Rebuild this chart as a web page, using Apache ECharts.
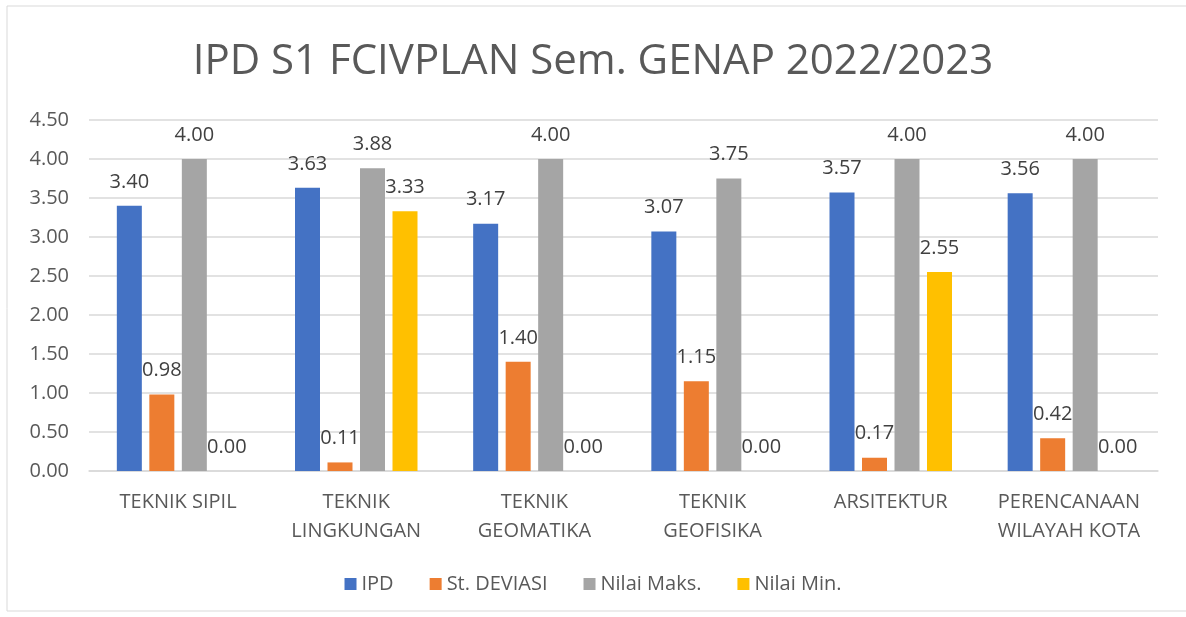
<!DOCTYPE html>
<html>
<head>
<meta charset="utf-8">
<script src="https://cdn.jsdelivr.net/npm/echarts@6/dist/echarts.min.js"></script>
<style>
  html, body { margin: 0; padding: 0; background: #fff; }
  #chart { width: 1186px; height: 617px; }
</style>
</head>
<body>
<div id="chart"></div>
<script>
// Chart data
const categories = ['TEKNIK SIPIL', 'TEKNIK\nLINGKUNGAN', 'TEKNIK\nGEOMATIKA', 'TEKNIK\nGEOFISIKA', 'ARSITEKTUR', 'PERENCANAAN\nWILAYAH KOTA'];
const ipd = [3.40, 3.63, 3.17, 3.07, 3.57, 3.56];
const stDeviasi = [0.98, 0.11, 1.40, 1.15, 0.17, 0.42];
const nilaiMaks = [4.00, 3.88, 4.00, 3.75, 4.00, 4.00];
const nilaiMin = [0.00, 3.33, 0.00, 0.00, 2.55, 0.00];
const seriesNames = ['IPD', 'St. DEVIASI', 'Nilai Maks.', 'Nilai Min.'];
const seriesColors = ['#4472c4', '#ed7d31', '#a5a5a5', '#ffc000'];

const FONT = '"Open Sans", "Noto Sans", sans-serif';

document.addEventListener('DOMContentLoaded', function() {
    const chart = echarts.init(document.getElementById('chart'), null, { renderer: 'canvas' });

    const allValues = [ipd, stDeviasi, nilaiMaks, nilaiMin];
    const series = allValues.map((data, i) => ({
        name: seriesNames[i],
        type: 'bar',
        data: data,
        barWidth: 25,
        barGap: '30%',
        itemStyle: { color: seriesColors[i] },
        label: {
            show: true,
            position: 'top',
            distance: 14,
            color: '#404040',
            fontFamily: FONT,
            fontSize: 20,
            formatter: p => p.value.toFixed(2)
        }
    }));

    const option = {
        animation: false,
        textStyle: { fontFamily: FONT },
        graphic: [{
            type: 'rect',
            shape: { x: 7, y: 6, width: 1200, height: 605 },
            style: { fill: 'none', stroke: '#d9d9d9', lineWidth: 1 },
            silent: true
        }],
        title: {
            text: 'IPD S1 FCIVPLAN Sem. GENAP 2022/2023',
            left: 'center',
            top: 36,
            textStyle: {
                fontFamily: FONT,
                fontSize: 42,
                fontWeight: 'normal',
                color: '#595959'
            }
        },
        legend: {
            data: seriesNames,
            bottom: 18,
            left: 'center',
            itemWidth: 12,
            itemHeight: 12,
            itemGap: 36,
            icon: 'rect',
            textStyle: { fontFamily: FONT, fontSize: 20, color: '#595959' }
        },
        grid: {
            left: 89,
            right: 28,
            top: 120,
            bottom: 146
        },
        xAxis: {
            type: 'category',
            data: categories,
            axisLine: { lineStyle: { color: '#d9d9d9', width: 1.5 } },
            axisTick: { show: false },
            axisLabel: {
                interval: 0,
                fontFamily: FONT,
                fontSize: 20,
                color: '#595959',
                lineHeight: 29,
                margin: 17
            }
        },
        yAxis: {
            type: 'value',
            min: 0,
            max: 4.5,
            interval: 0.5,
            axisLine: { show: false },
            axisTick: { show: false },
            splitLine: { lineStyle: { color: '#d9d9d9', width: 1.5 } },
            axisLabel: {
                fontFamily: FONT,
                fontSize: 20,
                color: '#595959',
                margin: 20,
                formatter: v => v.toFixed(2)
            }
        },
        series: series
    };

    chart.setOption(option);
});
</script>
</body>
</html>
